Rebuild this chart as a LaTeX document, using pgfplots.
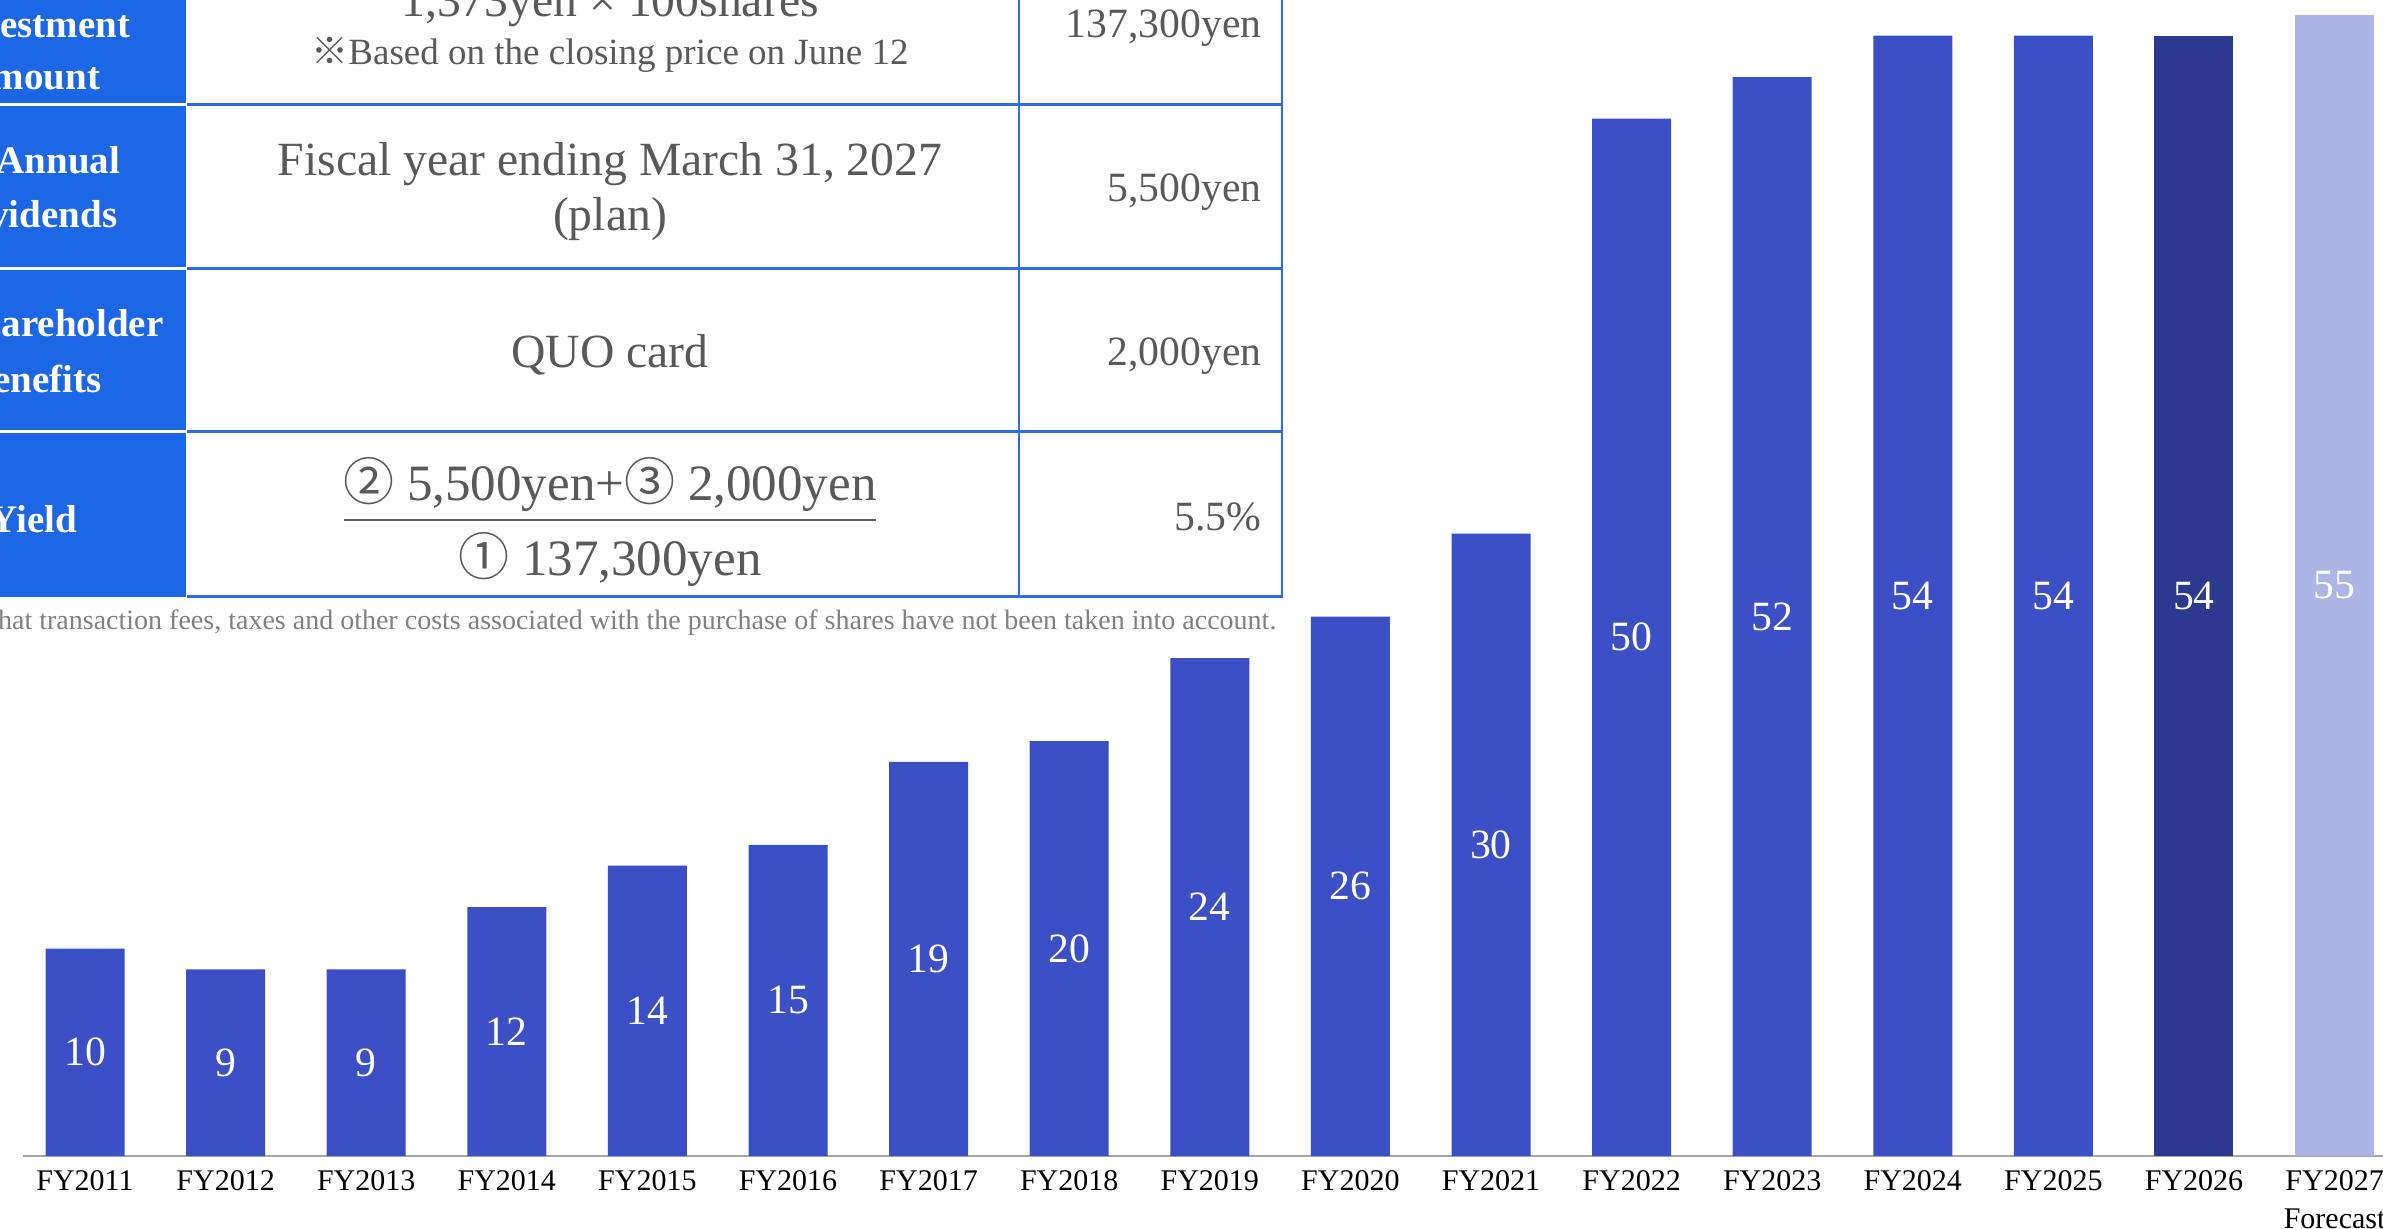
\documentclass[border=0pt]{standalone}
\usepackage{fontspec}
\setmainfont{Liberation Serif}
\newfontfamily\cjk{Noto Sans CJK JP}
\usepackage{pgfplots}
\pgfplotsset{compat=1.18}

\definecolor{barblue}{HTML}{3B50C4}
\definecolor{bardark}{HTML}{2C3990}
\definecolor{barlight}{HTML}{ADB5E6}
\definecolor{headblue}{HTML}{1B67E6}
\definecolor{rulblue}{HTML}{2E6BE6}
\definecolor{txtgray}{HTML}{595959}
\definecolor{notegray}{HTML}{808080}

\pgfplotsset{
  barlab/.style={
    ybar, bar width=23.7pt, bar shift=0pt, draw=none,
    visualization depends on={y \as \rawy},
    nodes near coords,
    every node near coord/.append style={anchor=center, text=white,
      inner sep=0pt, font=\fontsize{12.5}{14}\selectfont,
      shift={(axis direction cs:0,-\rawy/2)}},
  }
}

\begin{document}
\begin{tikzpicture}[x=0.3pt,y=0.3pt]
\path[use as bounding box, clip] (0,0) rectangle (2383,1228);

% --- table at the top left
\fill[headblue] (-20,631) rectangle (186,1250);
\foreach \yy in {1123,959,796}
  \draw[white, line width=0.9pt] (-20,\yy) -- (187,\yy);
\foreach \yy in {1123,959,796,631}
  \draw[rulblue, line width=0.9pt] (187,\yy) -- (1283,\yy);
\draw[rulblue, line width=0.6pt] (1019,631) -- (1019,1250);
\draw[rulblue, line width=0.6pt] (1282,631) -- (1282,1250);

\begin{scope}[every node/.style={inner sep=0pt, text=white,
    font=\fontsize{11.7}{14}\selectfont\bfseries, anchor=base east}]
  \node at (131,1190) {Investment};
  \node at (101,1138) {amount};
  \node at (121,1054) {Annual};
  \node at (118,1000) {Dividends};
  \node at (164,891) {Shareholder};
  \node at (102,835) {benefits};
  \node at (78,695) {Yield};
\end{scope}

\begin{scope}[every node/.style={inner sep=0pt, text=txtgray,
    font=\fontsize{14.3}{17}\selectfont, anchor=base}]
  \node at (610,1211) {1,373yen × 100shares};
  \node[font=\fontsize{11.1}{13}\selectfont] at (610,1163) {{\cjk ※}Based on the closing price on June 12};
  \node at (610,1052) {Fiscal year ending March 31, 2027};
  \node at (610,997) {(plan)};
  \node at (610,860) {QUO card};
  \node[font=\fontsize{15.3}{18}\selectfont] at (610,727) {{\cjk ②} 5,500yen+{\cjk ③} 2,000yen};
  \node[font=\fontsize{15.3}{18}\selectfont] at (610,652) {{\cjk ①} 137,300yen};
\end{scope}
\draw[txtgray, line width=0.8pt] (344,708) -- (876,708);

\begin{scope}[every node/.style={inner sep=0pt, text=txtgray,
    font=\fontsize{12.5}{15}\selectfont, anchor=base east}]
  \node at (1262,1190) {137,300yen};
  \node at (1262,1026) {5,500yen};
  \node at (1262,862) {2,000yen};
  \node at (1262,697) {5.5\%};
\end{scope}

\node[inner sep=0pt, anchor=base east, text=notegray, font=\fontsize{8.4}{10}\selectfont]
  at (1277,598) {Please note that transaction fees, taxes and other costs associated with the purchase of shares have not been taken into account.};

% --- dividend bars
\begin{axis}[
  at={(6.9pt,21.6pt)}, anchor=south west,
  scale only axis,
  x=42.18pt, y=6.225pt,
  xmin=-0.441, xmax=16.344, ymin=0, ymax=55.71,
  axis x line*=bottom, axis y line=none,
  x axis line style={draw=black!35, line width=0.8pt, -},
  xtick={0,...,16}, major tick length=0pt,
  xticklabels={FY2011,FY2012,FY2013,FY2014,FY2015,FY2016,FY2017,FY2018,FY2019,
    FY2020,FY2021,FY2022,FY2023,FY2024,FY2025,FY2026,{FY2027\\Forecast}},
  xticklabel style={anchor=north, inner sep=0pt, yshift=-4.3pt, align=center,
    font=\fontsize{9}{11.4}\selectfont},
  /pgf/number format/assume math mode=true,
]
\addplot[barlab, fill=barblue] coordinates {
  (0,10) (1,9) (2,9) (3,12) (4,14) (5,15) (6,19) (7,20) (8,24)
  (9,26) (10,30) (11,50) (12,52) (13,54) (14,54)
};
\addplot[barlab, fill=bardark] coordinates {(15,54)};
\addplot[barlab, fill=barlight] coordinates {(16,55)};
\end{axis}
\end{tikzpicture}
\end{document}
